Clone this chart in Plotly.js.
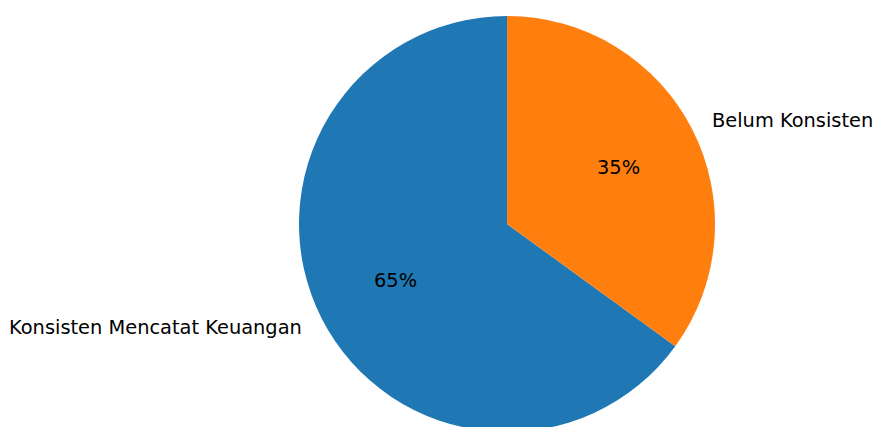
<!DOCTYPE html>
<html>
<head>
<meta charset="utf-8">
<script src="https://cdn.plot.ly/plotly-3.0.1.min.js"></script>
<style>
html,body{margin:0;padding:0;overflow:hidden;background:#fff;}
#chart{width:874px;height:448px;}
</style>
</head>
<body>
<div id="chart"></div>
<script>
const labels = ["Konsisten Mencatat Keuangan", "Belum Konsisten"];
const values = [65, 35];
const colors = ["#1f77b4", "#ff7f0e"];

const W = 874, H = 448;
const cx = 507, cy = 224, R = 208;
const domX = [(cx - R) / W, (cx + R) / W];
const domY = [0, 1];

const total = values.reduce((a, b) => a + b, 0);
const annotations = [];
let start = 90; // degrees, counterclockwise from 3 o'clock
values.forEach((v, i) => {
  const span = 360 * v / total;
  const mid = (start + span / 2) * Math.PI / 180;
  const c = Math.cos(mid), s = Math.sin(mid);
  const lx = cx + 1.1 * R * c, ly = cy - 1.1 * R * s;
  annotations.push({
    x: lx / W, y: 1 - ly / H, xref: "paper", yref: "paper",
    text: labels[i], showarrow: false, borderpad: 0,
    xanchor: c > 0 ? "left" : "right", yanchor: "middle",
    font: {family: "DejaVu Sans", size: 19.4, color: "#000"}
  });
  const px = cx + 0.6 * R * c, py = cy - 0.6 * R * s;
  annotations.push({
    x: px / W, y: 1 - py / H, xref: "paper", yref: "paper",
    text: Math.round(100 * v / total) + "%", showarrow: false, borderpad: 0,
    xanchor: "center", yanchor: "middle",
    font: {family: "DejaVu Sans", size: 19.4, color: "#000"}
  });
  start += span;
});

const data = [{
  type: "pie",
  labels: labels,
  values: values,
  sort: false,
  direction: "counterclockwise",
  // first slice starts at 12 o'clock and runs counterclockwise
  rotation: -360 * values[0] / total,
  textinfo: "none",
  hoverinfo: "label+percent",
  marker: {colors: colors, line: {width: 0}},
  domain: {x: domX, y: domY},
  showlegend: false
}];

const layout = {
  width: W, height: H,
  margin: {l: 0, r: 0, t: 0, b: 0, pad: 0},
  paper_bgcolor: "#fff",
  plot_bgcolor: "#fff",
  showlegend: false,
  annotations: annotations
};

Plotly.newPlot("chart", data, layout, {displayModeBar: false, staticPlot: true});
</script>
</body>
</html>
